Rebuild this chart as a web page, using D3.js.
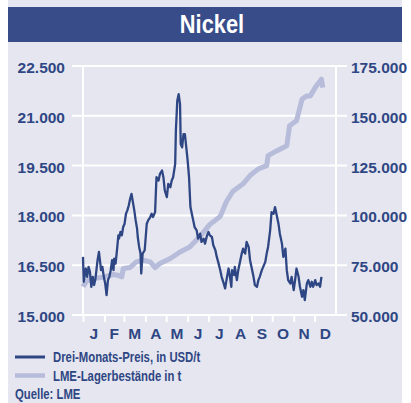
<!DOCTYPE html>
<html>
<head>
<meta charset="utf-8">
<script src="https://cdn.jsdelivr.net/npm/d3@7"></script>
<style>
  body { margin: 0; background: #fff; }
  svg { display: block; }
  .tick text { font-family: "Liberation Sans", Arial, sans-serif; font-weight: bold; fill: #2f4684; }
</style>
</head>
<body>
<div id="chart"></div>
<script>
// Nickel: three-month price (left axis) and LME stocks (right axis), day of year
var months = ["J", "F", "M", "A", "M", "J", "J", "A", "S", "O", "N", "D"];
var monthStarts = [0, 31, 59, 90, 120, 151, 181, 212, 243, 273, 304, 334];
var priceTicks = [15000, 16500, 18000, 19500, 21000, 22500];
var stockTicks = [50000, 75000, 100000, 125000, 150000, 175000];

var priceDays = [0, 1, 4, 6, 8, 10, 12, 14, 16, 18, 21, 23, 25, 26, 28, 30, 32, 34, 36, 38,
  40, 42, 44, 45, 47, 49, 51, 52, 54, 56, 58, 60, 62, 64, 66, 68, 70, 72, 74, 76,
  78, 79, 81, 83, 84, 86, 89, 92, 94, 97, 99, 101, 104, 106, 109, 111, 114, 116, 118, 121,
  123, 126, 128, 130, 133, 134, 136, 138, 140, 141, 143, 145, 147, 149, 151, 153, 155, 157, 159, 161,
  164, 166, 169, 171, 174, 176, 179, 181, 183, 186, 188, 191, 193, 195, 198, 200, 203, 205, 207, 210,
  212, 214, 215, 218, 219, 222, 224, 227, 229, 231, 234, 236, 239, 241, 243, 246, 248, 251, 253, 255,
  258, 260, 263, 265, 267, 270, 272, 275, 277, 280, 282, 284, 287, 289, 292, 294, 296, 299, 301, 304,
  306, 308, 311, 313, 316, 318, 320, 323, 325, 328, 330, 332, 335, 337, 340, 342, 344];
var priceValues = [16750, 16000, 16400, 16150, 16450, 16300, 15850, 16150, 15900, 16100, 16650, 16900, 16550, 16350, 16450, 16150, 15950, 15600, 16050, 16150,
  16350, 16650, 16350, 16700, 16550, 16950, 17400, 17300, 17500, 17400, 17650, 17750, 18050, 18150, 18300, 18500, 18650, 18400, 18150, 17850,
  17600, 17350, 17050, 16850, 16250, 16850, 16950, 17750, 17850, 17950, 18050, 17950, 18100, 19150, 19050, 19250, 19350, 19150, 18750, 18550,
  18950, 18850, 19050, 19150, 19550, 20550, 21450, 21650, 21350, 20150, 20050, 20450, 20450, 20050, 19650, 19150, 18250, 18050, 17850, 17650,
  17550, 17300, 17450, 17200, 17300, 17150, 17400, 17500, 17400, 17350, 17100, 16950, 16750, 16600, 16350, 16150, 15950, 15800, 16050, 16400,
  16150, 15850, 16350, 16200, 16450, 16050, 16350, 16650, 16850, 17000, 16850, 17200, 17050, 16650, 16450, 16150, 15900, 15850, 16050, 16150,
  16350, 16450, 16600, 16850, 17050, 17550, 18100, 18050, 18250, 17950, 17750, 17450, 17150, 16750, 17000, 16350, 16050, 15950, 16150, 15750,
  16050, 16400, 16150, 15850, 15550, 15750, 15450, 15950, 16050, 15850, 16000, 15850, 16050, 15900, 15950, 15850, 16150];

var stockDays = [0, 5, 15, 29, 44, 50, 56, 58, 68, 77, 87, 97, 104, 111, 126, 140, 154, 169, 183, 198,
  207, 216, 231, 241, 253, 265, 267, 280, 294, 298, 308, 316, 323, 328, 335, 344, 346];
var stockValues = [64150, 67000, 68350, 69000, 70350, 70000, 69150, 73350, 73850, 76650, 77500, 76650, 73850, 75850, 78350, 81650, 84150, 89500, 95500, 99500,
  107000, 112000, 115850, 120000, 123350, 125000, 130000, 132500, 135000, 145000, 147500, 158350, 160000, 160000, 164150, 168350, 164150];

var width = 411, height = 403;
var dark = "#2f4684", light = "#b6bcda", bg = "#e5e6ef";
var font = "'Liberation Sans', Arial, sans-serif";

var de = d3.formatLocale({decimal: ",", thousands: ".", grouping: [3], currency: ["", " €"]});
var fmt = de.format(",.0f");

var svg = d3.select("#chart").append("svg")
    .attr("width", width)
    .attr("height", height);

svg.append("rect")
    .attr("x", 8).attr("y", 0)
    .attr("width", 394).attr("height", height)
    .attr("fill", bg);

svg.append("rect")
    .attr("x", 8).attr("y", 7)
    .attr("width", 394).attr("height", 35)
    .attr("fill", "#374c88");

// condensed look: squeeze text horizontally
svg.append("text")
    .attr("transform", "translate(212,33) scale(0.84,1)")
    .attr("text-anchor", "middle")
    .attr("font-family", font)
    .attr("font-weight", "bold")
    .attr("font-size", 26)
    .attr("fill", "white")
    .text("Nickel");

var x = d3.scaleLinear().domain([0, 365]).range([83, 336]);
var yL = d3.scaleLinear().domain([15000, 22500]).range([315, 66]);
var yR = d3.scaleLinear().domain([50000, 175000]).range([315, 66]);

// horizontal grid lines
svg.append("g")
    .selectAll("line")
    .data(priceTicks)
    .enter().append("line")
    .attr("x1", 72).attr("x2", 347)
    .attr("y1", function (d) { return yL(d); })
    .attr("y2", function (d) { return yL(d); })
    .attr("stroke", "white")
    .attr("stroke-width", 2);

// plot frame sides
svg.append("g")
    .selectAll("line")
    .data([0, 365])
    .enter().append("line")
    .attr("x1", function (d) { return x(d); })
    .attr("x2", function (d) { return x(d); })
    .attr("y1", yL(22500)).attr("y2", yL(15000))
    .attr("stroke", "white")
    .attr("stroke-width", 2);

var leftAxis = svg.append("g")
    .attr("transform", "translate(72,0)")
    .call(d3.axisLeft(yL).tickValues(priceTicks).tickSize(0).tickPadding(7).tickFormat(fmt));

var rightAxis = svg.append("g")
    .attr("transform", "translate(347,0)")
    .call(d3.axisRight(yR).tickValues(stockTicks).tickSize(0).tickPadding(4).tickFormat(fmt));

[leftAxis, rightAxis].forEach(function (g) {
    g.select(".domain").remove();
    g.selectAll("text")
        .attr("font-size", 15.5)
        .attr("dy", null)
        .attr("y", 6.5);
});

var bottomAxis = svg.append("g")
    .attr("transform", "translate(0,315)")
    .call(d3.axisBottom(x).tickValues(monthStarts).tickSize(7).tickFormat(""));
bottomAxis.select(".domain").remove();
bottomAxis.selectAll("line")
    .attr("stroke", "white")
    .attr("stroke-width", 2);

svg.append("g")
    .selectAll("text")
    .data(months)
    .enter().append("text")
    .attr("x", function (d, i) {
        var end = i < 11 ? monthStarts[i + 1] : 365;
        return x((monthStarts[i] + end) / 2);
    })
    .attr("y", 338.5)
    .attr("text-anchor", "middle")
    .attr("font-family", font)
    .attr("font-weight", "bold")
    .attr("font-size", 15.5)
    .attr("fill", dark)
    .text(function (d) { return d; });

var stockLine = d3.line()
    .x(function (d, i) { return x(stockDays[i]); })
    .y(function (d) { return yR(d); });

var priceLine = d3.line()
    .x(function (d, i) { return x(priceDays[i]); })
    .y(function (d) { return yL(d); });

svg.append("path")
    .datum(stockValues)
    .attr("d", stockLine)
    .attr("fill", "none")
    .attr("stroke", light)
    .attr("stroke-width", 5)
    .attr("stroke-linejoin", "round");

svg.append("path")
    .datum(priceValues)
    .attr("d", priceLine)
    .attr("fill", "none")
    .attr("stroke", dark)
    .attr("stroke-width", 2.3)
    .attr("stroke-linejoin", "round");

// legend
var legend = [
    {label: "Drei-Monats-Preis, in USD/t", color: dark, w: 3, y: 362},
    {label: "LME-Lagerbestände in t", color: light, w: 4.5, y: 380.5}
];

var lg = svg.append("g");
lg.selectAll("line")
    .data(legend)
    .enter().append("line")
    .attr("x1", 15).attr("x2", 45)
    .attr("y1", function (d) { return d.y - 5; })
    .attr("y2", function (d) { return d.y - 5; })
    .attr("stroke", function (d) { return d.color; })
    .attr("stroke-width", function (d) { return d.w; });

lg.selectAll("text")
    .data(legend)
    .enter().append("text")
    .attr("transform", function (d) { return "translate(53," + d.y + ") scale(0.81,1)"; })
    .attr("font-family", font)
    .attr("font-weight", "bold")
    .attr("font-size", 14)
    .attr("fill", dark)
    .text(function (d) { return d.label; });

svg.append("text")
    .attr("transform", "translate(15,398.5) scale(0.81,1)")
    .attr("font-family", font)
    .attr("font-weight", "bold")
    .attr("font-size", 14)
    .attr("fill", dark)
    .text("Quelle: LME");
</script>
</body>
</html>
